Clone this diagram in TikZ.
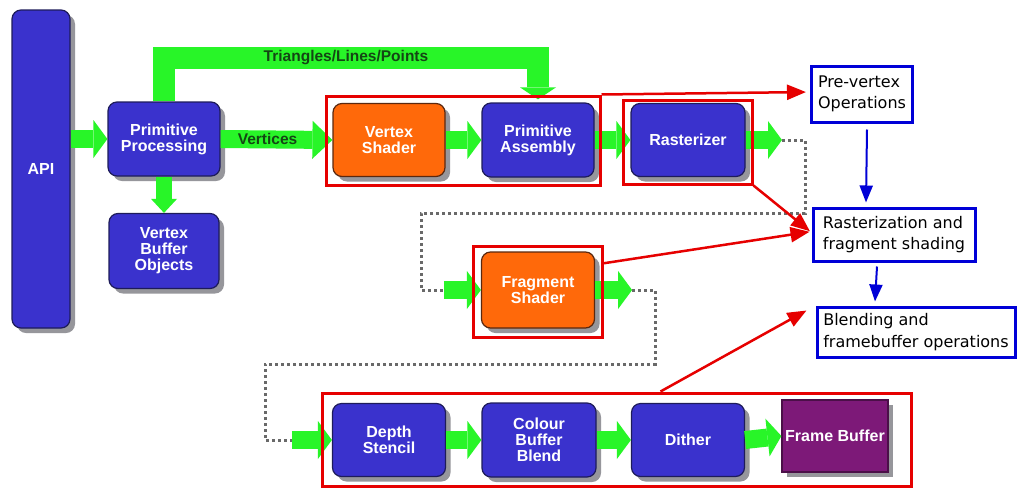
\documentclass[tikz,border=0pt]{standalone}
\usepackage{fontspec}
\setmainfont{Liberation Sans}
\newfontfamily\rfont{DejaVu Sans}
\usetikzlibrary{arrows.meta,shadows,calc}
\definecolor{boxblue}{RGB}{58,50,205}
\definecolor{bordernavy}{RGB}{30,28,90}
\definecolor{boxorange}{RGB}{255,105,10}
\definecolor{borderbrown}{RGB}{90,40,15}
\definecolor{boxpurple}{RGB}{125,25,120}
\definecolor{shadowgray}{RGB}{150,150,155}
\definecolor{pgreen}{RGB}{40,245,40}
\definecolor{labelgreen}{RGB}{20,70,20}
\definecolor{hred}{RGB}{230,0,0}
\definecolor{hblue}{RGB}{0,0,215}
\definecolor{dotgray}{RGB}{105,105,105}
\tikzset{
  pbox/.style={rounded corners=9pt, draw=bordernavy, line width=1.2pt, fill=boxblue,
    text=white, font=\fontsize{16}{16}\selectfont\bfseries, align=center,
    minimum width=112pt, minimum height=74pt, inner sep=2pt,
    drop shadow={shadow xshift=5pt, shadow yshift=-5pt, fill=shadowgray, opacity=1}},
  obox/.style={pbox, fill=boxorange, draw=borderbrown},
  fbox/.style={pbox, rounded corners=0pt, fill=boxpurple, draw=boxpurple!60!black},
  garrow/.style={draw=pgreen, line width=18pt, -{Triangle[length=14pt,width=38pt,line width=0pt]}},
  glabel/.style={text=labelgreen, font=\fontsize{15.5}{16}\selectfont\bfseries, inner sep=0pt},
  dotline/.style={draw=dotgray, line width=3pt, dash pattern=on 3pt off 3pt},
  redbox/.style={draw=hred, line width=3pt, inner sep=0pt},
  rarrow/.style={draw=hred, line width=2.5pt, -{Triangle[length=19pt,width=15pt]}},
  barrow/.style={draw=hblue, line width=2pt, -{Triangle[length=17pt,width=13pt]}},
  infobox/.style={draw=hblue, line width=3pt, fill=white, text=black,
    font=\rfont\fontsize{16}{21.5}\selectfont, align=left, inner sep=3pt}
}
\begin{document}
\begin{tikzpicture}[x=1pt,y=-1pt]
\useasboundingbox[fill=white] (0,0) rectangle (1017,488);

% pipeline boxes
\node[pbox, minimum width=58pt, minimum height=318pt] (api) at (41,169) {API};
\node[pbox] (pp) at (164,139) {Primitive\\Processing};
\node[pbox, minimum width=110pt, minimum height=75pt] (vbo) at (164,251) {Vertex\\Buffer\\Objects};
\node[obox, minimum height=73pt] (vs) at (389,140) {Vertex\\Shader};
\node[pbox] (pa) at (538,140) {Primitive\\Assembly};
\node[pbox, minimum width=114pt, minimum height=73pt] (ras) at (688,140) {Rasterizer};
\node[obox, minimum width=113pt, minimum height=76pt] (fs) at (538,290) {Fragment\\Shader};
\node[pbox, minimum width=113pt, minimum height=73pt] (ds) at (389,440) {Depth\\Stencil};
\node[pbox, minimum width=114pt] (cbb) at (539,440) {Colour\\Buffer\\Blend};
\node[pbox, minimum width=113pt, minimum height=73pt] (dit) at (688,440) {Dither};
\node[fbox, minimum width=106pt, minimum height=72pt] (fb) at (835,436) {Frame Buffer};

% green arrows
\draw[garrow] (api.east |- pp.west) -- (pp.west);
\draw[garrow, -{Triangle[length=20pt,width=38pt,line width=0pt]}] (pp.east) -- node[glabel, pos=0.42]{Vertices} (vs.west);
\draw[garrow, line width=16pt, -{Triangle[length=14pt,width=26pt,line width=0pt]}] (pp.south) -- (vbo.north);
\coordinate (busmid) at (346,58);
\draw[draw=pgreen, line width=22pt, line join=miter, shorten >=3pt, -{Triangle[length=12pt,width=36pt,line width=0pt]}] (pp.north) |- (busmid) -| (pa.north);
\node[glabel] (tlp) at (busmid) {Triangles/Lines/Points};
\draw[garrow] (vs.east) -- (pa.west);
\draw[garrow] (pa.east) -- (ras.west);
\coordinate (c1) at (782,140);
\draw[garrow] (ras.east) -- (c1);
\coordinate (fsin) at ($(fs.west)+(-37,0)$);
\draw[dotline] (c1) -- (805,140) |- (421,213) |- (fsin);
\draw[garrow] (fsin) -- (fs.west);
\coordinate (c2) at ($(fs.east)+(37,0)$);
\draw[garrow] (fs.east) -- (c2);
\coordinate (dsin) at ($(ds.west)+(-40,0)$);
\draw[dotline] (c2) -- (655,290) |- (265,364) |- (dsin);
\draw[garrow] (dsin) -- (ds.west);
\draw[garrow] (ds.east) -- (cbb.west);
\draw[garrow] (cbb.east) -- (dit.west);
\draw[garrow] (dit.east) -- (fb.west);

% red frames
\node[redbox, minimum width=274pt, minimum height=89pt] (r1) at (463,140.5) {};
\node[redbox, minimum width=129pt, minimum height=84pt] (r2) at (687.5,142) {};
\node[redbox, minimum width=129pt, minimum height=91pt] (r3) at (537.5,291.5) {};
\node[redbox, minimum width=589pt, minimum height=93pt] (r4) at (616.5,439.5) {};

% info boxes
\node[infobox, minimum width=101pt, minimum height=56pt] (pv) at (862,94) {Pre-vertex\\Operations};
\node[infobox, minimum width=162pt, minimum height=53pt] (rf) at (894,234.5) {Rasterization and\\fragment shading};
\node[infobox, minimum width=198pt, minimum height=50pt] (bf) at (916,332) {Blending and\\framebuffer operations};

% red arrows
\draw[rarrow, shorten >=4pt] (r1.north east) -- ($(pv.west)+(0,-2)$);
\draw[rarrow, shorten >=2pt] (r2.south east) -- ($(rf.west)+(0,-2)$);
\draw[rarrow, shorten >=2pt] ($(r3.north east)!0.2!(r3.south east)$) -- ($(rf.west)+(0,-3)$);
\draw[rarrow] ([xshift=44pt]r4.north) -- ($(bf.north west)+(-9,5)$);

% blue arrows
\draw[barrow] ($(pv.south)+(5,6)$) -- ($(rf.north)+(-28,-4)$);
\draw[barrow] ($(rf.south)+(-17,4)$) -- ($(bf.north)+(-41,-4)$);
\end{tikzpicture}
\end{document}
